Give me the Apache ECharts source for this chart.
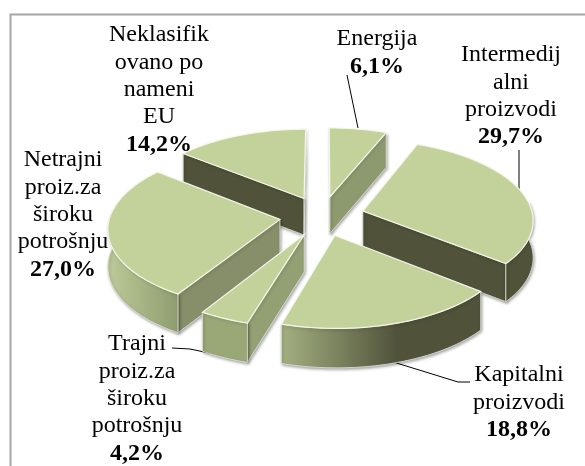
<!DOCTYPE html>
<html><head><meta charset="utf-8">
<style>html,body{margin:0;padding:0;background:#fff}#c{width:585px;height:466px}</style>
<script src="https://cdn.jsdelivr.net/npm/echarts@6/dist/echarts.min.js"></script>
</head><body><div id="c"></div>
<script>
// DATA
const categories = ['Energija','Intermedijalni proizvodi','Kapitalni proizvodi','Trajni proiz.za široku potrošnju','Netrajni proiz.za široku potrošnju','Neklasifikovano po nameni EU'];
const values = [6.1,29.7,18.8,4.2,27.0,14.2];
const valueLabels = ['6,1%','29,7%','18,8%','4,2%','27,0%','14,2%'];
const labelLines = [['Energija'],['Intermedij','alni','proizvodi'],['Kapitalni','proizvodi'],['Trajni','proiz.za','široku','potrošnju'],['Netrajni','proiz.za','široku','potrošnju'],['Neklasifik','ovano po','nameni','EU']];

// LAYOUT / STYLE
const P = {cx:322, cy:216, R:170, Rk:79.5, persp:0.10, explode:0.25, depth:37, depthPersp:0.05};
const labelPos = [[377,39],[511,55],[519,375],[137,344],[63,160],[159,35]];
const leaders = [[[347,75],[358,128]],[[519,150],[519,189]],[[390,361],[458,382],[470,382]],[[172,348],[190,349],[228,357]],null,null];
const TOP = '#c3d19a';
const sideWall = ['#8d9a6f','#50533a','#50533a','#93a074','#868f69','#50533a'];
const rimStops = [
  [['#8d9a6f',0],['#8d9a6f',1]],[['#50533a',0],['#50533a',1]],
  [['#a3b081',0],['#50533a',0.58],['#50533a',1]],[['#9aa878',0],['#9aa878',1]],[['#bcc998',0],['#8f9d70',1]],[['#50533a',0],['#50533a',1]]];
const FONT = '"Liberation Serif","Times New Roman",serif';
const LH = 27.4, FS = 24;

const total = values.reduce((a,b)=>a+b,0);
let acc = 0;
const slices = values.map(v=>{const a0=acc/total*2*Math.PI; acc+=v; return {a0,a1:acc/total*2*Math.PI};});
function proj(X,Y){const w=1+P.persp*Y; return {x:P.cx+P.R*X/w, y:P.cy-P.Rk*Y/w, d:P.depth/(1+P.depthPersp*Y)};}

function renderItem(params, api){
  const i = params.dataIndex, s = slices[i];
  const am=(s.a0+s.a1)/2, ex=P.explode*Math.sin(am), ey=P.explode*Math.cos(am);
  const at=t=>proj(ex+Math.sin(t),ey+Math.cos(t));
  const apex=proj(ex,ey);
  const n=Math.max(4,Math.ceil((s.a1-s.a0)/0.02));
  const rim=[]; for(let k=0;k<=n;k++) rim.push(at(s.a0+(s.a1-s.a0)*k/n));
  const order = -Math.cos(am)*100;
  const kids=[];
  const wall=(pts,fill)=>kids.push({type:'polygon',z2:order,
    shape:{points:pts.map(p=>[p.x,p.y]).concat(pts.slice().reverse().map(p=>[p.x,p.y+p.d]))},
    style:{fill,stroke:'#e4e6dc',lineWidth:0.8,shadowBlur:3,shadowColor:'rgba(0,0,0,0.35)',shadowOffsetX:1,shadowOffsetY:1.5}});
  if(rim[0].x<apex.x) wall([apex,rim[0]],sideWall[i]);
  if(apex.x<rim[n].x) wall([rim[n],apex],sideWall[i]);
  const vis=rim.filter((p,k)=>{const t=s.a0+(s.a1-s.a0)*k/n; return t>=Math.PI/2-0.12 && t<=Math.PI*1.5+0.12;});
  if(vis.length>1){
    const xs=vis.map(p=>p.x), x0=Math.min(...xs), x1=Math.max(...xs);
    wall(vis,{type:'linear',global:true,x:x0,y:0,x2:x1,y2:0,colorStops:rimStops[i].map(([color,offset])=>({offset,color}))});
  }
  kids.push({type:'polygon',z2:order+1,shape:{points:[apex,...rim].map(p=>[p.x,p.y])},
    style:{fill:TOP,stroke:'#f4f6ea',lineWidth:1.2}});
  return {type:'group',children:kids};
}

const graphics=[{type:'rect',shape:{x:10.5,y:14.5,width:600,height:500},style:{fill:'#fff',stroke:'#a6a6a6',lineWidth:2},z:0}];
leaders.forEach(l=>{ if(l) graphics.push({type:'polyline',shape:{points:l},style:{fill:'none',stroke:'#000',lineWidth:1},z:1}); });
labelLines.forEach((lines,i)=>{
  const [x,y]=labelPos[i];
  lines.forEach((t,k)=>graphics.push({type:'text',z:11,style:{x,y:y+k*LH,text:t,fill:'#000',font:`${FS}px ${FONT}`,textAlign:'center',textVerticalAlign:'middle'}}));
  graphics.push({type:'text',z:11,style:{x,y:y+lines.length*LH,text:valueLabels[i],fill:'#000',font:`bold ${FS}px ${FONT}`,textAlign:'center',textVerticalAlign:'middle'}});
});

const chart=echarts.init(document.getElementById('c'),null,{renderer:'canvas'});
chart.setOption({
  animation:false,
  graphic:graphics,
  series:[{type:'custom',coordinateSystem:'none',z:5,renderItem,
    data:categories.map((name,i)=>({name,value:values[i]}))}]
});
</script></body></html>
